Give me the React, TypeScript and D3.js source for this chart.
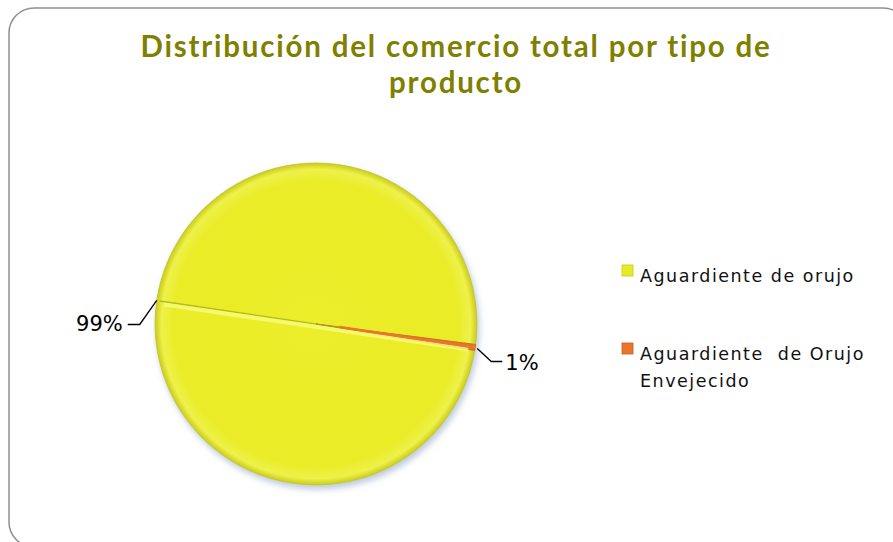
import React from "react";
import * as d3 from "d3";

const categories = ["Aguardiente de orujo", "Aguardiente de Orujo Envejecido"];
const values = [99.4, 0.6];
const valueLabels = ["99%", "1%"];
const legendLines = [["Aguardiente de orujo"], ["Aguardiente  de Orujo", "Envejecido"]];
const colors = ["#E8EB26", "#E9762B"];
const titleLines = ["Distribución del comercio total por tipo de", "producto"];

const W = 893;
const H = 542;
const cx = 316;
const cy = 324;
const R = 161;
const smallMid = (98.4 * Math.PI) / 180;

export default function App() {
  const total = d3.sum(values);
  const smallSpan = (values[1] / total) * Math.PI * 2;
  const start = smallMid + smallSpan / 2;
  const pie = d3
    .pie<number>()
    .sort(null)
    .value((d) => d)
    .startAngle(start)
    .endAngle(start + Math.PI * 2);
  const arcs = pie(values);
  const arc = d3.arc<d3.PieArcDatum<number>>().innerRadius(0).outerRadius(R);
  const rim = d3.arc<d3.PieArcDatum<number>>().innerRadius(R).outerRadius(R);

  const bigMid = rim.centroid(arcs[0]);
  const smallOut = rim.centroid(arcs[1]);

  const lbl0 = {
    p: bigMid,
    elbow: [bigMid[0] - 17, bigMid[1] + 24],
    end: [bigMid[0] - 29, bigMid[1] + 24],
  };
  const lbl1 = {
    p: [smallOut[0] + 2, smallOut[1] + 1],
    elbow: [smallOut[0] + 16, smallOut[1] + 14],
    end: [smallOut[0] + 27, smallOut[1] + 14],
  };
  const line = d3.line();
  const L: [number, number] = [bigMid[0] + 3, bigMid[1] + 0.5];
  const Rr: [number, number] = [smallOut[0] - 3, smallOut[1] - 0.5];

  return (
    <svg width={W} height={H} style={{ display: "block", position: "absolute", left: 0, top: 0 }}>
      <defs>
        <radialGradient id="yel" cx="50%" cy="50%" r="50%">
          <stop offset="0%" stopColor="#ECEE2A" />
          <stop offset="88%" stopColor="#E9EC26" />
          <stop offset="96%" stopColor="#EFF14A" />
          <stop offset="100%" stopColor="#C9CB1C" />
        </radialGradient>
        <filter id="sh" x="-20%" y="-20%" width="140%" height="140%">
          <feGaussianBlur in="SourceAlpha" stdDeviation="3" />
          <feOffset dx="2" dy="4" result="b" />
          <feFlood floodColor="#8aa0c0" floodOpacity="0.55" />
          <feComposite in2="b" operator="in" />
          <feMerge>
            <feMergeNode />
            <feMergeNode in="SourceGraphic" />
          </feMerge>
        </filter>
      </defs>
      <rect x={9} y={8} width={899} height={539} rx={25} ry={25} fill="#fff" stroke="#8f8f8f" strokeWidth={1.5} />
      {titleLines.map((t, i) => (
        <text
          key={i}
          x={456}
          y={57 + i * 36}
          textAnchor="middle"
          fontFamily="Lato, 'Open Sans', sans-serif"
          fontWeight="bold"
          fontSize={29.5}
          fill="#7F7F00"
          letterSpacing="1.8"
        >
          {t}
        </text>
      ))}
      <g transform={`translate(${cx},${cy})`} filter="url(#sh)">
        <path d={arc(arcs[0]) || ""} fill="url(#yel)" stroke="#C4C61F" strokeWidth={0.8} />
        <path d={arc(arcs[1]) || ""} fill={colors[1]} stroke="#C9621E" strokeWidth={0.8} />
      </g>
      <g transform={`translate(${cx},${cy})`}>
        <path d={line([L, Rr]) || ""} stroke="#A9AB1E" strokeWidth={1.4} strokeOpacity={0.8} fill="none" />
        <path
          d={line([[L[0] + 4, L[1] + 3.5], [Rr[0] - 4, Rr[1] + 2.5]]) || ""}
          stroke="#F8FA78"
          strokeWidth={4}
          strokeOpacity={0.85}
          fill="none"
        />
        <path
          d={line([[Rr[0] * 0.15, Rr[1] * 0.15 - 0.5], [smallOut[0], smallOut[1]]]) || ""}
          stroke={colors[1]}
          strokeWidth={2.5}
          fill="none"
        />
      </g>
      <path d={line([[cx + lbl0.p[0], cy + lbl0.p[1]], [cx + lbl0.elbow[0], cy + lbl0.elbow[1]], [cx + lbl0.end[0], cy + lbl0.end[1]]] as [number, number][]) || ""} stroke="#000" strokeWidth={1.3} fill="none" />
      <path d={line([[cx + lbl1.p[0], cy + lbl1.p[1]], [cx + lbl1.elbow[0], cy + lbl1.elbow[1]], [cx + lbl1.end[0], cy + lbl1.end[1]]] as [number, number][]) || ""} stroke="#000" strokeWidth={1.3} fill="none" />
      <text x={cx + lbl0.end[0] - 5} y={cy + lbl0.end[1] + 7} textAnchor="end" fontFamily="'DejaVu Sans', sans-serif" fontSize={21} fill="#000">
        {valueLabels[0]}
      </text>
      <text x={cx + lbl1.end[0] + 3} y={cy + lbl1.end[1] + 8} textAnchor="start" fontFamily="'DejaVu Sans', sans-serif" fontSize={21} fill="#000">
        {valueLabels[1]}
      </text>
      {categories.map((c, i) => {
        const y0 = 265 + i * 78;
        return (
          <g key={c}>
            <rect x={622} y={y0} width={11} height={11} fill={colors[i]} stroke={i === 0 ? "#C7C920" : "#C35F1C"} strokeWidth={0.8} />
            {legendLines[i].map((t, j) => (
              <text key={j} x={640} y={y0 + 17 + j * 27} fontFamily="'DejaVu Sans', sans-serif" fontSize={17.5} fill="#111" letterSpacing="1.5" style={{ whiteSpace: "pre" }}>
                {t}
              </text>
            ))}
          </g>
        );
      })}
    </svg>
  );
}
